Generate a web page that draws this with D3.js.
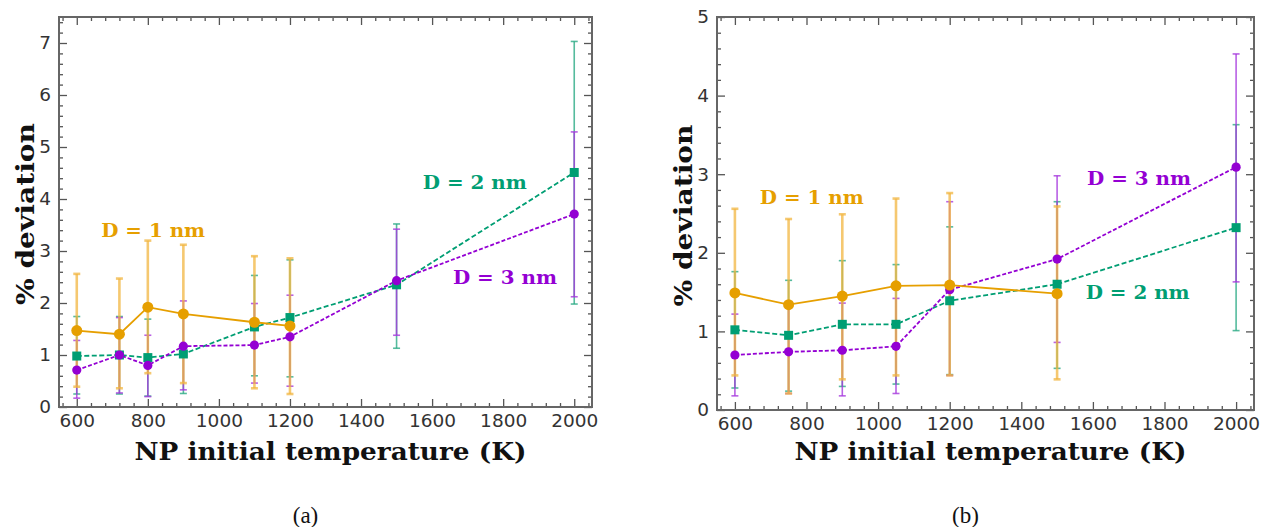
<!DOCTYPE html>
<html>
<head>
<meta charset="utf-8">
<script src="https://cdn.jsdelivr.net/npm/d3@7"></script>
<style>
  html, body { margin: 0; padding: 0; background: #fff; }
  svg { display: block; }
</style>
</head>
<body>
<svg id="chart" width="1280" height="527"></svg>
<script>
// ---- data -------------------------------------------------------------
// Panel (a): NP initial temperatures (K)
const tempsA = [600, 720, 800, 900, 1100, 1200, 1500, 2000];
const a_d1     = [1.47, 1.40, 1.92, 1.79, 1.63, 1.56];
const a_d1_hi  = [2.56, 2.47, 3.20, 3.12, 2.90, 2.86];
const a_d1_lo  = [0.39, 0.36, 0.65, 0.46, 0.36, 0.25];
const a_d2     = [0.98, 1.00, 0.95, 1.02, 1.54, 1.72, 2.35, 4.51];
const a_d2_hi  = [1.74, 1.74, 1.69, 1.75, 2.53, 2.83, 3.52, 7.03];
const a_d2_lo  = [0.25, 0.25, 0.21, 0.26, 0.60, 0.58, 1.13, 1.98];
const a_d3     = [0.71, 1.00, 0.80, 1.17, 1.19, 1.35, 2.43, 3.71];
const a_d3_hi  = [1.28, 1.72, 1.38, 2.04, 1.99, 2.15, 3.42, 5.29];
const a_d3_lo  = [0.17, 0.27, 0.20, 0.33, 0.46, 0.40, 1.38, 2.12];

// Panel (b)
const tempsB = [600, 750, 900, 1050, 1200, 1500, 2000];
const b_d1     = [1.49, 1.34, 1.45, 1.58, 1.59, 1.48];
const b_d1_hi  = [2.56, 2.43, 2.49, 2.69, 2.76, 2.59];
const b_d1_lo  = [0.44, 0.21, 0.39, 0.44, 0.44, 0.39];
const b_d2     = [1.02, 0.95, 1.09, 1.09, 1.39, 1.60, 2.32];
const b_d2_hi  = [1.76, 1.65, 1.90, 1.85, 2.33, 2.65, 3.63];
const b_d2_lo  = [0.28, 0.24, 0.30, 0.33, 0.45, 0.53, 1.01];
const b_d3     = [0.70, 0.74, 0.76, 0.81, 1.53, 1.92, 3.09];
const b_d3_hi  = [1.22, 1.30, 1.36, 1.42, 2.65, 2.98, 4.53];
const b_d3_lo  = [0.18, 0.21, 0.18, 0.21, 0.44, 0.86, 1.63];

const seriesNames = ["D = 1 nm", "D = 2 nm", "D = 3 nm"];
const xTicks = [600, 800, 1000, 1200, 1400, 1600, 1800, 2000];
const yTicksA = [0, 1, 2, 3, 4, 5, 6, 7];
const yTicksB = [0, 1, 2, 3, 4, 5];
const xTitle = "NP initial temperature (K)";
const yTitle = "% deviation";

// ---- styling ----------------------------------------------------------
const colors = ["#E69F00", "#009E73", "#9400D3"];
const barColors = ["#F2B540", "#2BAA85", "#A638DD"];
const dashes = [null, "5,2.5", "4,2"];

const svg = d3.select("#chart");

function zip(t, v, lo, hi) {
  return v.map((d, i) => ({ x: t[i], y: d, lo: lo[i], hi: hi[i] }));
}

const panels = [
  {
    box: { left: 59, right: 592, top: 17, bottom: 407 },
    yMax: 7.5, yTicks: yTicksA, caption: "(a)",
    series: [
      zip(tempsA, a_d1, a_d1_lo, a_d1_hi),
      zip(tempsA, a_d2, a_d2_lo, a_d2_hi),
      zip(tempsA, a_d3, a_d3_lo, a_d3_hi)
    ],
    // annotation anchors in data units (temperature, % deviation)
    notes: [[815, 3.40], [1720, 4.31], [1805, 2.50]],
    yTitleX: 25, xTitleY: 460, captionY: 523
  },
  {
    box: { left: 717, right: 1254, top: 17, bottom: 410 },
    yMax: 5, yTicks: yTicksB, caption: "(b)",
    series: [
      zip(tempsB, b_d1, b_d1_lo, b_d1_hi),
      zip(tempsB, b_d2, b_d2_lo, b_d2_hi),
      zip(tempsB, b_d3, b_d3_lo, b_d3_hi)
    ],
    notes: [[815, 2.70], [1725, 1.50], [1729, 2.95]],
    yTitleX: 683, xTitleY: 460, captionY: 523
  }
];

function range(a, b, step) {
  const out = [];
  for (let v = a; v <= b + 1e-9; v += step) out.push(+v.toFixed(4));
  return out;
}

panels.forEach(p => {
  const b = p.box;
  const x = d3.scaleLinear().domain([550, 2050]).range([b.left, b.right]);
  const y = d3.scaleLinear().domain([0, p.yMax]).range([b.bottom, b.top]);
  const g = svg.append("g");

  const xMinor = range(560, 2040, 40).filter(v => v % 200 !== 0);
  const yMinor = range(0, p.yMax, 0.2).filter(v => Math.abs(v - Math.round(v)) > 1e-6);

  const tickColor = "#555";
  function styleAxis(sel) {
    sel.select(".domain").remove();
    sel.selectAll(".tick line").attr("stroke", tickColor).attr("stroke-width", 1.3);
    sel.selectAll(".tick text")
      .attr("fill", "#333")
      .style("font-family", "'DejaVu Sans', sans-serif")
      .style("font-size", "18.5px");
  }

  // bottom / top
  g.append("g").attr("transform", `translate(0,${b.bottom})`)
    .call(d3.axisBottom(x).tickValues(xTicks).tickSize(-8).tickPadding(7).tickFormat(d3.format("d")))
    .call(styleAxis);
  g.append("g").attr("transform", `translate(0,${b.bottom})`)
    .call(d3.axisBottom(x).tickValues(xMinor).tickSize(-4).tickFormat(""))
    .call(styleAxis);
  g.append("g").attr("transform", `translate(0,${b.top})`)
    .call(d3.axisTop(x).tickValues(xTicks).tickSize(-8).tickFormat(""))
    .call(styleAxis);
  g.append("g").attr("transform", `translate(0,${b.top})`)
    .call(d3.axisTop(x).tickValues(xMinor).tickSize(-4).tickFormat(""))
    .call(styleAxis);
  // left / right
  g.append("g").attr("transform", `translate(${b.left},0)`)
    .call(d3.axisLeft(y).tickValues(p.yTicks).tickSize(-8).tickPadding(8).tickFormat(d3.format("d")))
    .call(styleAxis);
  g.append("g").attr("transform", `translate(${b.left},0)`)
    .call(d3.axisLeft(y).tickValues(yMinor).tickSize(-4).tickFormat(""))
    .call(styleAxis);
  g.append("g").attr("transform", `translate(${b.right},0)`)
    .call(d3.axisRight(y).tickValues(p.yTicks).tickSize(-8).tickFormat(""))
    .call(styleAxis);
  g.append("g").attr("transform", `translate(${b.right},0)`)
    .call(d3.axisRight(y).tickValues(yMinor).tickSize(-4).tickFormat(""))
    .call(styleAxis);

  // frame
  g.append("rect")
    .attr("x", b.left).attr("y", b.top)
    .attr("width", b.right - b.left).attr("height", b.bottom - b.top)
    .attr("fill", "none").attr("stroke", "#666").attr("stroke-width", 2);

  // error bars
  const order = [1, 2, 0];
  order.forEach(si => {
    const data = p.series[si];
    const eg = g.append("g")
      .attr("stroke", barColors[si])
      .attr("stroke-opacity", si === 0 ? 0.75 : 0.8)
      .attr("stroke-width", si === 0 ? 2.6 : 1.6);
    eg.selectAll("line.v").data(data).join("line")
      .attr("x1", d => x(d.x)).attr("x2", d => x(d.x))
      .attr("y1", d => y(d.lo)).attr("y2", d => y(d.hi));
    eg.selectAll("line.t").data(data).join("line")
      .attr("x1", d => x(d.x) - 3.5).attr("x2", d => x(d.x) + 3.5)
      .attr("y1", d => y(d.hi)).attr("y2", d => y(d.hi));
    eg.selectAll("line.b").data(data).join("line")
      .attr("x1", d => x(d.x) - 3.5).attr("x2", d => x(d.x) + 3.5)
      .attr("y1", d => y(d.lo)).attr("y2", d => y(d.lo));
  });

  // lines + markers
  const line = d3.line().x(d => x(d.x)).y(d => y(d.y));
  [1, 2, 0].forEach(si => {
    const data = p.series[si];
    g.append("path").datum(data)
      .attr("d", line)
      .attr("fill", "none")
      .attr("stroke", colors[si])
      .attr("stroke-width", 1.8)
      .attr("stroke-dasharray", dashes[si]);
  });
  [1, 2, 0].forEach(si => {
    const data = p.series[si];
    if (si === 1) {
      g.selectAll(null).data(data).join("rect")
        .attr("x", d => x(d.x) - 4.5).attr("y", d => y(d.y) - 4.5)
        .attr("width", 9).attr("height", 9)
        .attr("fill", colors[si]);
    } else {
      g.selectAll(null).data(data).join("circle")
        .attr("cx", d => x(d.x)).attr("cy", d => y(d.y))
        .attr("r", si === 0 ? 5.5 : 4.6)
        .attr("fill", colors[si]);
    }
  });

  // series labels
  p.notes.forEach((n, si) => {
    g.append("text")
      .attr("x", x(n[0])).attr("y", y(n[1]))
      .attr("text-anchor", "middle")
      .attr("dominant-baseline", "central")
      .attr("fill", colors[si])
      .style("font-family", "'DejaVu Serif', serif")
      .style("font-weight", "bold")
      .style("font-size", "18px")
      .attr("textLength", 104).attr("lengthAdjust", "spacingAndGlyphs")
      .text(seriesNames[si]);
  });

  // axis titles
  const cx = (b.left + b.right) / 2 + 5;
  g.append("text")
    .attr("x", cx).attr("y", p.xTitleY)
    .attr("text-anchor", "middle")
    .attr("fill", "#111")
    .style("font-family", "'DejaVu Serif', serif")
    .style("font-weight", "bold")
    .style("font-size", "24px")
    .attr("textLength", 392).attr("lengthAdjust", "spacingAndGlyphs")
    .text(xTitle);
  g.append("text")
    .attr("transform", `translate(${p.yTitleX},${(b.top + b.bottom) / 2 + 2}) rotate(-90)`)
    .attr("text-anchor", "middle")
    .attr("dominant-baseline", "central")
    .attr("fill", "#111")
    .style("font-family", "'DejaVu Serif', serif")
    .style("font-weight", "bold")
    .style("font-size", "25px")
    .attr("textLength", 182).attr("lengthAdjust", "spacingAndGlyphs")
    .text(yTitle);

  // caption
  g.append("text")
    .attr("x", (b.left + b.right) / 2 - 20).attr("y", p.captionY)
    .attr("text-anchor", "middle")
    .attr("fill", "#111")
    .style("font-family", "'Liberation Serif', serif")
    .style("font-size", "23px")
    .text(p.caption);
});
</script>
</body>
</html>
